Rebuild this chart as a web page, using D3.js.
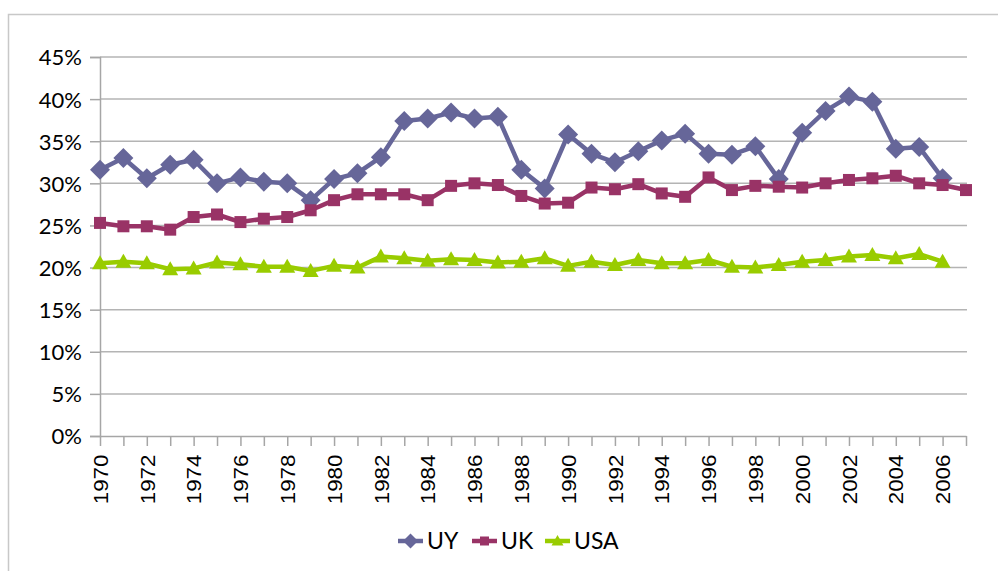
<!DOCTYPE html>
<head>
  <meta charset="utf-8">
  <script src="https://d3js.org/d3.v7.min.js"></script>
  <style>
body { margin: 0; background: white; }
svg { display: block; background-color: white; }
.ylab { font-family: Lato, 'Open Sans', sans-serif; font-size: 22px; fill: #000; }
.xlab { font-family: 'Liberation Sans', Arial, sans-serif; font-size: 20px; fill: #000; }
.leg { font-family: Lato, 'Open Sans', sans-serif; font-size: 23px; fill: #000; }
  </style>
</head>
<body>
<svg width="998" height="571"></svg>
<script>
var years = d3.range(1970, 2008);
var uy = [31.6, 33.0, 30.6, 32.2, 32.8, 30.0, 30.7, 30.2, 30.0, 28.0,
          30.5, 31.2, 33.1, 37.4, 37.7, 38.4, 37.7, 37.9, 31.6, 29.4,
          35.8, 33.5, 32.5, 33.8, 35.1, 35.9, 33.5, 33.4, 34.4, 30.5,
          36.0, 38.6, 40.3, 39.7, 34.1, 34.3, 30.6, null];
var uk = [25.3, 24.9, 24.9, 24.5, 26.0, 26.3, 25.4, 25.8, 26.0, 26.8,
          28.0, 28.7, 28.7, 28.7, 28.0, 29.7, 30.0, 29.8, 28.5, 27.6,
          27.7, 29.5, 29.3, 29.9, 28.8, 28.4, 30.7, 29.2, 29.7, 29.6,
          29.5, 30.0, 30.4, 30.6, 30.9, 30.0, 29.8, 29.2];
var usa = [20.5, 20.7, 20.5, 19.8, 19.9, 20.6, 20.4, 20.1, 20.1, 19.6,
           20.2, 20.0, 21.3, 21.1, 20.8, 21.0, 20.9, 20.6, 20.7, 21.1,
           20.2, 20.7, 20.3, 20.9, 20.5, 20.5, 20.9, 20.1, 20.0, 20.3,
           20.7, 20.9, 21.3, 21.5, 21.1, 21.6, 20.7, null];
var yTicks = d3.range(0, 46, 5);
var seriesNames = ["UY", "UK", "USA"];
var colors = ["#666699", "#993366", "#99cc00"];

var svg = d3.select("svg");

// chart frame
svg.append("path").attr("d", "M8.5,571 V14.5 H998")
  .attr("fill", "none").attr("stroke", "#c8c8c8").attr("stroke-width", 1.5);

var x = d3.scaleLinear().domain([1970, 2007]).range([100, 966]);
var y = d3.scaleLinear().domain([0, 45]).range([436, 57]);

// gridlines
svg.append("g").selectAll("line").data(yTicks.slice(1)).enter().append("line")
  .attr("x1", 100).attr("x2", 967)
  .attr("y1", function(d) { return y(d); }).attr("y2", function(d) { return y(d); })
  .attr("stroke", "#b4b4b4").attr("stroke-width", 1.5);

// y axis
var yAxis = svg.append("g").attr("transform", "translate(100,0)")
  .call(d3.axisLeft(y).tickValues(yTicks).tickSize(10).tickPadding(8)
    .tickFormat(function(d) { return d + "%"; }));
yAxis.select(".domain").attr("stroke", "#a6a6a6").attr("stroke-width", 1.5);
yAxis.selectAll(".tick line").attr("stroke", "#a6a6a6").attr("stroke-width", 1.5);
yAxis.selectAll("text").attr("class", "ylab").attr("dy", "0.36em");

// x axis
var xAxis = svg.append("g").attr("transform", "translate(0,436)")
  .call(d3.axisBottom(x).tickValues(years).tickSize(10).tickSizeOuter(0)
    .tickFormat(function(d) { return d % 2 === 0 ? d : ""; }));
xAxis.select(".domain").attr("stroke", "#a6a6a6").attr("stroke-width", 1.5);
xAxis.selectAll(".tick line").attr("stroke", "#a6a6a6").attr("stroke-width", 1.5);
xAxis.selectAll("text").attr("class", "xlab")
  .attr("transform", "rotate(-90) scale(1.12,1)")
  .attr("text-anchor", "end")
  .attr("x", -16.5).attr("y", 0).attr("dy", "0.36em");

function marker(g, kind, color) {
  if (kind === 0) {
    g.append("path").attr("d", "M0,-10 L10,0 L0,10 L-10,0 Z").attr("fill", color);
  } else if (kind === 1) {
    g.append("rect").attr("x", -6).attr("y", -6).attr("width", 12).attr("height", 12).attr("fill", color);
  } else {
    g.append("path").attr("d", "M0,-8 L8,6 L-8,6 Z").attr("fill", color);
  }
}

var allSeries = [uy, uk, usa];
var line = d3.line()
  .defined(function(d) { return d != null; })
  .x(function(d, i) { return x(years[i]); })
  .y(function(d) { return y(d); });

allSeries.forEach(function(s, k) {
  svg.append("path").datum(s).attr("d", line)
    .attr("fill", "none").attr("stroke", colors[k]).attr("stroke-width", 4.5)
    .attr("stroke-linejoin", "round");
  s.forEach(function(v, i) {
    if (v == null) return;
    var g = svg.append("g").attr("transform", "translate(" + x(years[i]) + "," + y(v) + ")");
    marker(g, k, colors[k]);
  });
});

// legend
var legX = [398, 472, 545];
seriesNames.forEach(function(n, k) {
  var g = svg.append("g").attr("transform", "translate(" + legX[k] + ",541)");
  g.append("line").attr("x1", 0).attr("x2", 25).attr("stroke", colors[k]).attr("stroke-width", 4.5);
  var m = g.append("g").attr("transform", "translate(12.5,0) scale(0.75)");
  marker(m, k, colors[k]);
  g.append("text").attr("class", "leg").attr("x", 29).attr("dy", "0.36em").text(n);
});
</script>
</body>
</html>
